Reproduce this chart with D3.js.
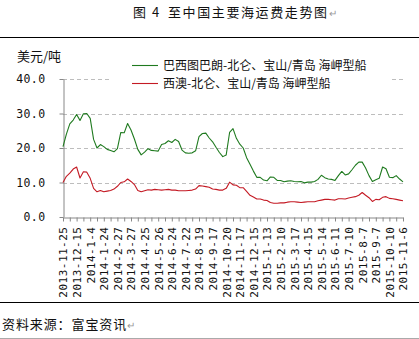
<!DOCTYPE html>
<html>
<head>
<meta charset="utf-8">
<script src="https://cdn.jsdelivr.net/npm/d3@7/dist/d3.min.js"></script>
<style>
  html, body { margin: 0; padding: 0; background: #fff; }
  svg { display: block; }
</style>
</head>
<body>
<svg id="chart" width="419" height="339"></svg>
<script>
// Category labels shown on the x axis (one every 4 samples)
const dateLabels = [
  "2013-11-25", "2013-12-15", "2014-1-4", "2014-1-24", "2014-2-27", "2014-3-27",
  "2014-4-25", "2014-5-26", "2014-6-24", "2014-7-22", "2014-8-19", "2014-9-17",
  "2014-10-20", "2014-11-17", "2014-12-15", "2015-1-13", "2015-2-10", "2015-3-17",
  "2015-4-15", "2015-5-14", "2015-6-11", "2015-7-10", "2015-8-7", "2015-9-7",
  "2015-10-10", "2015-11-6"
];

// 巴西图巴朗-北仑、宝山/青岛 海岬型船 (USD/t)
const brazilRoute = [
  20.4, 24.0, 27.0, 28.1, 29.7, 28.0, 29.9, 30.0, 28.6, 22.5,
  20.0, 21.0, 20.4, 19.6, 19.3, 18.9, 19.8, 24.5, 24.4, 27.1,
  25.2, 22.6, 19.6, 18.0, 18.8, 19.8, 19.3, 19.2, 19.1, 21.0,
  21.3, 22.1, 21.6, 22.5, 21.9, 19.4, 18.6, 18.5, 18.6, 19.2,
  23.3, 24.2, 24.3, 22.9, 21.8, 20.2, 18.7, 17.5, 18.0, 24.5,
  25.6, 22.8, 21.1, 20.0, 17.2, 15.3, 13.3, 11.5, 11.5, 10.7,
  10.5, 11.6, 11.5, 10.6, 10.6, 10.2, 10.4, 10.5, 10.3, 10.2,
  10.3, 9.9, 10.1, 10.1, 10.3, 10.9, 12.1, 11.4, 11.0, 10.9,
  10.6, 12.0, 13.2, 12.2, 12.5, 13.7, 15.0, 15.9, 15.9, 14.2,
  12.0, 10.3, 10.8, 11.2, 14.5, 14.0, 11.5, 11.4, 12.0, 11.0,
  10.2
];

// 西澳-北仑、宝山/青岛 海岬型船 (USD/t)
const westAusRoute = [
  10.0, 11.8, 12.7, 13.9, 14.5, 11.3, 13.1, 13.0, 11.2, 8.3,
  7.3, 7.7, 7.3, 7.5, 7.7, 8.1, 8.9, 10.0, 10.2, 11.0,
  10.3, 9.4, 7.7, 7.3, 7.6, 7.9, 7.8, 8.0, 7.9, 7.8,
  7.9, 8.0, 7.8, 7.8, 7.6, 7.6, 7.6, 7.7, 7.8, 8.1,
  9.1, 9.0, 8.8, 8.6, 8.1, 8.0, 7.8, 7.8, 8.3, 10.1,
  9.3, 9.2, 8.5, 8.5, 7.4, 6.3, 5.8, 5.2, 5.2, 4.9,
  4.8, 4.2, 4.0, 4.0, 4.1, 4.1, 4.3, 4.4, 4.4, 4.3,
  4.2, 4.3, 4.4, 4.4, 4.4, 4.7, 4.9, 5.1, 5.1, 5.0,
  4.9, 5.3, 5.3, 5.2, 5.5, 5.7, 5.9, 6.3, 7.1, 6.3,
  5.6, 4.5, 5.1, 5.0, 5.7, 5.9, 5.4, 5.3, 5.1, 4.9,
  4.7
];

const yTicks = [0, 10, 20, 30, 40];
const seriesNames = ["巴西图巴朗-北仑、宝山/青岛 海岬型船", "西澳-北仑、宝山/青岛 海岬型船"];
const seriesColors = ["#1f7a1f", "#c41a24"];

const svg = d3.select("#chart");
const cjk = "'Noto Sans CJK SC', 'Noto Sans', sans-serif";
const mono = "'DejaVu Sans Mono', 'Liberation Mono', monospace";

// Page frame: title, rules and source note
const title = svg.append("text")
  .attr("y", 17)
  .attr("font-family", cjk).attr("font-size", 13)
  .attr("letter-spacing", 1.6)
  .attr("fill", "#111");
title.append("tspan").attr("x", 133).text("图 4");
title.append("tspan").attr("x", 168).text("至中国主要海运费走势图");
title.append("tspan").attr("fill", "#999").attr("font-size", 10).text("↵");

svg.append("line").attr("x1", 0).attr("x2", 419).attr("y1", 37.5).attr("y2", 37.5)
  .attr("stroke", "#000").attr("stroke-width", 1);
svg.append("line").attr("x1", 0).attr("x2", 419).attr("y1", 302.5).attr("y2", 302.5)
  .attr("stroke", "#000").attr("stroke-width", 1);
svg.append("line").attr("x1", 0).attr("x2", 419).attr("y1", 338.5).attr("y2", 338.5)
  .attr("stroke", "#aaa").attr("stroke-width", 1);

svg.append("text")
  .attr("x", 2).attr("y", 329)
  .attr("font-family", cjk).attr("font-size", 13)
  .attr("letter-spacing", 0.9)
  .attr("fill", "#111")
  .text("资料来源：富宝资讯")
  .append("tspan").attr("fill", "#999").attr("font-size", 10).text("↵");

// Scales
const x = d3.scaleLinear().domain([0, brazilRoute.length - 1]).range([63, 403]);
const y = d3.scaleLinear().domain([0, 40]).range([217, 79]);

// Dashed gridlines
svg.append("g")
  .selectAll("line")
  .data(yTicks.filter(d => d > 0))
  .join("line")
  .attr("x1", x(0)).attr("x2", x(brazilRoute.length - 1))
  .attr("y1", d => Math.round(y(d)) + 0.5).attr("y2", d => Math.round(y(d)) + 0.5)
  .attr("stroke", "#bdbdbd").attr("stroke-dasharray", "4,3");

// Y axis
const yAxis = svg.append("g")
  .attr("transform", `translate(${x(0) + 0.5},0)`)
  .call(d3.axisLeft(y).tickValues(yTicks).tickFormat(d3.format(".1f")).tickSize(4).tickSizeOuter(0));
yAxis.select(".domain").attr("stroke", "#888");
yAxis.selectAll(".tick line").attr("stroke", "#888");
yAxis.selectAll(".tick text")
  .attr("x", -18)
  .attr("font-family", mono).attr("font-size", 11.5)
  .attr("letter-spacing", 0.4)
  .attr("fill", "#111");

svg.append("text")
  .attr("x", 17).attr("y", 61)
  .attr("font-family", cjk).attr("font-size", 13)
  .attr("fill", "#111")
  .text("美元/吨");

// X axis: a tick every 2 samples, a date label every 4
const xAxis = svg.append("g")
  .attr("transform", `translate(0,${y(0) + 0.5})`)
  .call(d3.axisBottom(x)
    .tickValues(d3.range(0, brazilRoute.length, 2))
    .tickFormat(i => i % 4 === 0 ? dateLabels[i / 4] : "")
    .tickSize(4).tickSizeOuter(0));
xAxis.select(".domain").attr("stroke", "#888");
xAxis.selectAll(".tick line").attr("stroke", "#888");
xAxis.selectAll(".tick text")
  .attr("transform", "rotate(-90)")
  .attr("text-anchor", "end")
  .attr("x", -9).attr("y", 0).attr("dy", "0.36em")
  .attr("font-family", mono).attr("font-size", 11)
  .attr("letter-spacing", 0.5)
  .attr("fill", "#111");

// Legend (white panel over the top gridline)
const legend = svg.append("g");
legend.append("rect").attr("x", 112).attr("y", 54).attr("width", 280).attr("height", 38).attr("fill", "#fff");
seriesNames.forEach((name, k) => {
  const ly = 65 + k * 18;
  legend.append("line").attr("x1", 132).attr("x2", 158).attr("y1", ly + 0.5).attr("y2", ly + 0.5)
    .attr("stroke", seriesColors[k]).attr("stroke-width", 1.1);
  legend.append("text").attr("x", 163).attr("y", ly + 4.5)
    .attr("font-family", cjk).attr("font-size", 12).attr("fill", "#111")
    .text(name);
});

// Series lines
const line = d3.line().x((d, i) => x(i)).y(d => y(d));
[brazilRoute, westAusRoute].forEach((values, k) => {
  svg.append("path")
    .datum(values)
    .attr("d", line)
    .attr("fill", "none")
    .attr("stroke", seriesColors[k])
    .attr("stroke-width", 1.1)
    .attr("stroke-linejoin", "round");
});
</script>
</body>
</html>
